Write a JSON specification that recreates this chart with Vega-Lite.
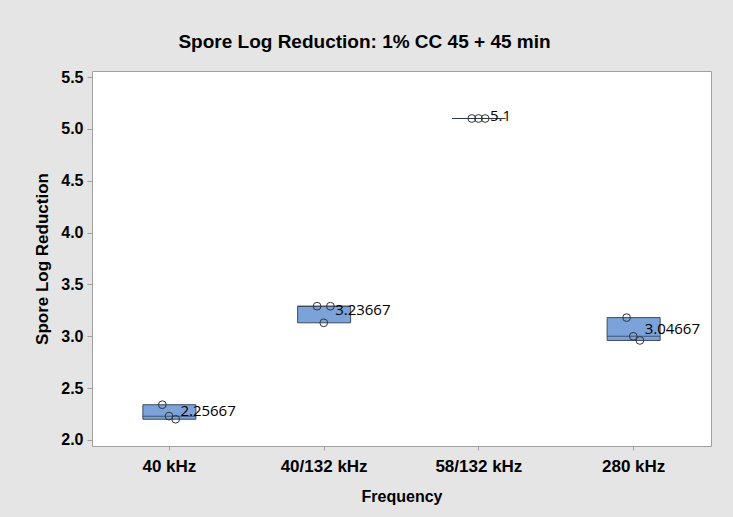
{
  "$schema": "https://vega.github.io/schema/vega-lite/v6.json",
  "width": 619,
  "height": 375,
  "autosize": {"type": "none"},
  "padding": {"left": 92, "top": 71, "right": 22, "bottom": 71},
  "background": "#E5E5E5",
  "title": {
    "text": "Spore Log Reduction: 1% CC 45 + 45 min",
    "font": "Liberation Sans",
    "fontSize": 19,
    "fontWeight": "bold",
    "color": "#000000",
    "anchor": "middle",
    "dx": -37,
    "offset": 17
  },
  "config": {
    "view": {"stroke": "#A0A0A0", "fill": "#FFFFFF"},
    "axis": {
      "labelFont": "Liberation Sans",
      "labelFontWeight": "bold",
      "labelFontSize": 16,
      "labelColor": "#000000",
      "titleFont": "Liberation Sans",
      "titleFontWeight": "bold",
      "titleFontSize": 16,
      "titleColor": "#000000",
      "tickColor": "#A0A0A0",
      "domain": false,
      "grid": false
    }
  },
  "data": {
    "values": [
      {"Frequency": "40 kHz", "rep": 1, "value": 2.34},
      {"Frequency": "40 kHz", "rep": 2, "value": 2.23},
      {"Frequency": "40 kHz", "rep": 3, "value": 2.20},
      {"Frequency": "40/132 kHz", "rep": 1, "value": 3.29},
      {"Frequency": "40/132 kHz", "rep": 2, "value": 3.13},
      {"Frequency": "40/132 kHz", "rep": 3, "value": 3.29},
      {"Frequency": "58/132 kHz", "rep": 1, "value": 5.1},
      {"Frequency": "58/132 kHz", "rep": 2, "value": 5.1},
      {"Frequency": "58/132 kHz", "rep": 3, "value": 5.1},
      {"Frequency": "280 kHz", "rep": 1, "value": 3.18},
      {"Frequency": "280 kHz", "rep": 2, "value": 3.00},
      {"Frequency": "280 kHz", "rep": 3, "value": 2.96}
    ]
  },
  "resolve": {"scale": {"x": "independent"}, "axis": {"x": "independent"}},
  "layer": [
    {
      "transform": [
        {"aggregate": [{"op": "min", "field": "value", "as": "lo"}, {"op": "max", "field": "value", "as": "hi"}], "groupby": ["Frequency"]}
      ],
      "mark": {"type": "bar", "size": 53, "fill": "#7BA3D9", "stroke": "#3C4A60", "strokeWidth": 1},
      "encoding": {
        "x": {
          "field": "Frequency",
          "type": "nominal",
          "sort": ["40 kHz", "40/132 kHz", "58/132 kHz", "280 kHz"],
          "scale": {"type": "band", "paddingInner": 0, "paddingOuter": 0},
          "axis": {"labelAngle": 0, "tickSize": 4, "labelPadding": 8, "titlePadding": 14, "title": "Frequency", "labelFontSize": 17}
        },
        "y": {
          "field": "lo",
          "type": "quantitative",
          "title": "Spore Log Reduction",
          "scale": {"domain": [1.942, 5.558], "nice": false, "zero": false},
          "axis": {"values": [2, 2.5, 3, 3.5, 4, 4.5, 5, 5.5], "format": ".1f", "tickSize": 5, "labelPadding": 4, "titlePadding": 9, "titleFontSize": 17}
        },
        "y2": {"field": "hi"}
      }
    },
    {
      "transform": [
        {"aggregate": [{"op": "median", "field": "value", "as": "med"}], "groupby": ["Frequency"]}
      ],
      "mark": {"type": "tick", "size": 53, "thickness": 1, "color": "#2B3445"},
      "encoding": {
        "x": {
          "field": "Frequency",
          "type": "nominal",
          "sort": ["40 kHz", "40/132 kHz", "58/132 kHz", "280 kHz"],
          "scale": {"type": "band", "paddingInner": 0, "paddingOuter": 0},
          "axis": null
        },
        "y": {"field": "med", "type": "quantitative", "title": "Spore Log Reduction"}
      }
    },
    {
      "mark": {"type": "point", "filled": false, "size": 60, "stroke": "#333333", "strokeWidth": 1, "opacity": 1},
      "encoding": {
        "x": {
          "field": "Frequency",
          "type": "nominal",
          "sort": ["40 kHz", "40/132 kHz", "58/132 kHz", "280 kHz"],
          "scale": {"type": "band", "paddingInner": 0, "paddingOuter": 0},
          "axis": null
        },
        "xOffset": {"field": "rep", "type": "nominal", "scale": {"type": "point", "range": [67, 87]}},
        "y": {"field": "value", "type": "quantitative", "title": "Spore Log Reduction"}
      }
    },
    {
      "transform": [
        {"aggregate": [{"op": "mean", "field": "value", "as": "mean"}], "groupby": ["Frequency"]}
      ],
      "mark": {"type": "text", "align": "left", "baseline": "middle", "dx": 11, "dy": -2, "font": "Open Sans", "fontSize": 15, "color": "#000000"},
      "encoding": {
        "x": {
          "field": "Frequency",
          "type": "nominal",
          "sort": ["40 kHz", "40/132 kHz", "58/132 kHz", "280 kHz"],
          "scale": {"type": "band", "paddingInner": 0, "paddingOuter": 0},
          "axis": null
        },
        "y": {"field": "mean", "type": "quantitative", "title": "Spore Log Reduction"},
        "text": {"field": "mean", "type": "quantitative", "format": ".6~g"}
      }
    }
  ]
}
